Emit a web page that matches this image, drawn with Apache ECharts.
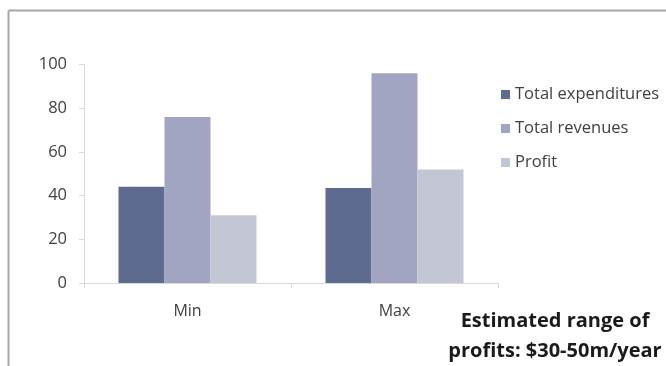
<!DOCTYPE html>
<html>
<head>
<meta charset="utf-8">
<script src="https://cdn.jsdelivr.net/npm/echarts@6/dist/echarts.min.js"></script>
<style>
html,body{margin:0;padding:0;background:#fff;}
#chart{width:666px;height:366px;}
</style>
</head>
<body>
<div id="chart"></div>
<script>
var categories = ['Min', 'Max'];
var totalExpenditures = [44, 43.5];
var totalRevenues = [76, 96];
var profit = [31, 52];
var seriesNames = ['Total expenditures', 'Total revenues', 'Profit'];
var yTicks = {min: 0, max: 100, interval: 20};
var noteLines = ['Estimated range of', 'profits: $30-50m/year'];

var FONT = 'Open Sans';
var colors = ['#5f6a8f', '#a1a5c1', '#c3c7d5'];
var chart = echarts.init(document.getElementById('chart'), null, {renderer: 'canvas'});
var values = [totalExpenditures, totalRevenues, profit];

var option = {
  backgroundColor: '#ffffff',
  animation: false,
  color: colors,
  grid: {left: 84, right: 168, top: 64.5, bottom: 83, containLabel: false},
  legend: {
    orient: 'vertical',
    left: 496,
    top: 81,
    itemWidth: 9,
    itemHeight: 9,
    itemGap: 17,
    icon: 'rect',
    textStyle: {fontFamily: FONT, fontSize: 16.5, color: '#404040', padding: [0, 0, 0, 0]},
    data: seriesNames
  },
  xAxis: {
    type: 'category',
    data: categories,
    axisLine: {lineStyle: {color: '#d9d9d9', width: 1}},
    axisTick: {show: true, length: 5, lineStyle: {color: '#d9d9d9'}},
    axisLabel: {fontFamily: FONT, fontSize: 16, color: '#404040', margin: 20}
  },
  yAxis: {
    type: 'value',
    min: yTicks.min,
    max: yTicks.max,
    interval: yTicks.interval,
    splitLine: {show: false},
    axisLine: {show: true, lineStyle: {color: '#d9d9d9', width: 1}},
    axisTick: {show: true, length: 5, lineStyle: {color: '#d9d9d9'}},
    axisLabel: {fontFamily: FONT, fontSize: 16.5, color: '#404040', margin: 17}
  },
  series: seriesNames.map(function (n, i) {
    return {
      name: n,
      type: 'bar',
      data: values[i],
      barWidth: 46,
      barGap: '0%',
      itemStyle: {color: colors[i]}
    };
  }),
  graphic: [
    {type: 'line', shape: {x1: 8.5, y1: 10.5, x2: 666, y2: 10.5}, style: {stroke: '#a6a6a6', lineWidth: 2}, silent: true},
    {type: 'line', shape: {x1: 8.5, y1: 10.5, x2: 8.5, y2: 366}, style: {stroke: '#a6a6a6', lineWidth: 2}, silent: true},
    {type: 'text', x: 555, y: 321, style: {text: noteLines[0], fontFamily: FONT, fontWeight: 'bold', fontSize: 20, fill: '#1a1a1a', align: 'center', verticalAlign: 'middle'}},
    {type: 'text', x: 555, y: 351, style: {text: noteLines[1], fontFamily: FONT, fontWeight: 'bold', fontSize: 20, fill: '#1a1a1a', align: 'center', verticalAlign: 'middle'}}
  ]
};
chart.setOption(option);
</script>
</body>
</html>
